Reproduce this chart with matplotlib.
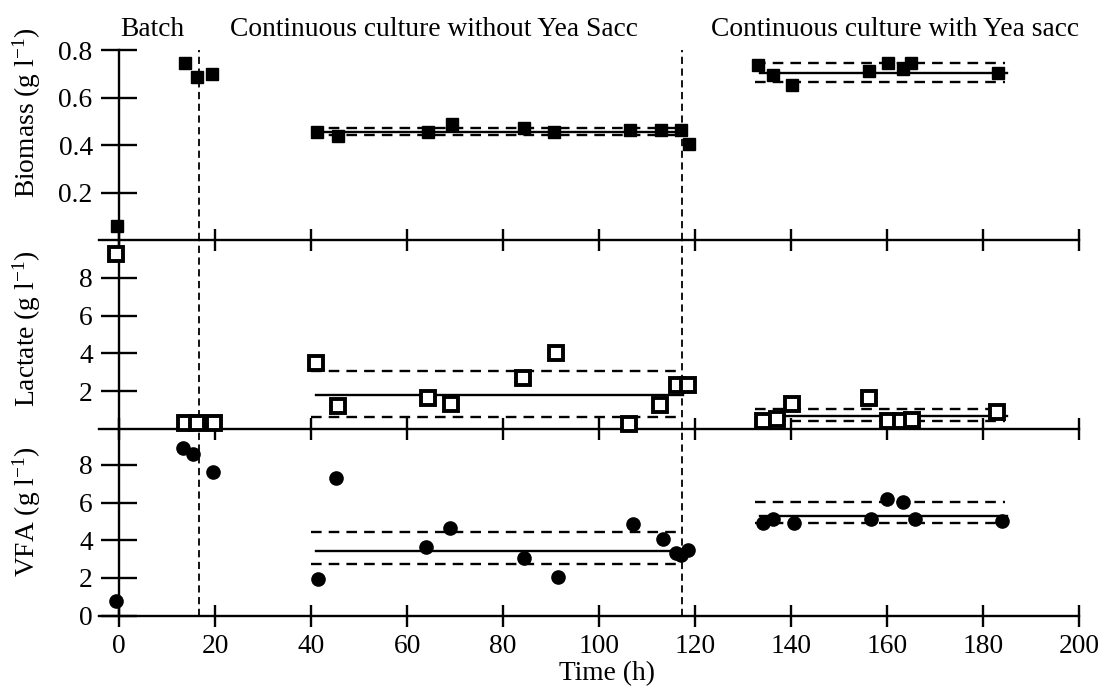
import matplotlib
matplotlib.use("Agg")
import matplotlib.pyplot as plt
from matplotlib.transforms import blended_transform_factory

plt.rcParams['font.family'] = ['Liberation Serif', 'DejaVu Serif']
plt.rcParams['mathtext.fontset'] = 'custom'
plt.rcParams['mathtext.rm'] = 'Liberation Serif'
plt.rcParams['mathtext.it'] = 'Liberation Serif:italic'
plt.rcParams['font.size'] = 19.8

bio_t = [-0.5, 13.8, 16.2, 19.3, 41.2, 45.5, 64.3, 69.4, 84.3, 90.6, 106.4,
         113.0, 117.0, 118.7, 133.1, 136.3, 140.1, 156.3, 160.2, 163.4, 165.0, 183.2]
bio_y = [0.06, 0.745, 0.685, 0.70, 0.455, 0.44, 0.455, 0.49, 0.47, 0.455, 0.465,
         0.465, 0.465, 0.405, 0.735, 0.695, 0.652, 0.712, 0.747, 0.72, 0.747, 0.705]

lac_t = [-0.6, 13.8, 16.2, 19.8, 41.0, 45.5, 64.3, 69.2, 84.2, 91.0, 106.2,
         112.8, 116.3, 118.5, 134.1, 137.0, 140.1, 156.3, 160.2, 162.9, 165.3, 183.0]
lac_y = [9.27, 0.31, 0.31, 0.31, 3.5, 1.2, 1.65, 1.35, 2.7, 4.0, 0.25,
         1.25, 2.35, 2.35, 0.4, 0.55, 1.35, 1.65, 0.4, 0.4, 0.5, 0.9]

vfa_t = [-0.6, 13.3, 15.3, 19.5, 41.4, 45.2, 64.0, 69.0, 84.3, 91.4, 107.0,
         113.3, 116.1, 117.1, 118.5, 134.1, 136.2, 140.6, 156.7, 160.1, 163.3, 165.9, 184.0]
vfa_y = [0.8, 8.9, 8.6, 7.6, 1.95, 7.3, 3.65, 4.65, 3.05, 2.05, 4.85,
         4.05, 3.3, 3.2, 3.5, 4.9, 5.15, 4.9, 5.15, 6.2, 6.05, 5.15, 5.0]

# steady-state mean and mean +/- sd for each continuous phase
phase_start = [41.0, 133.5]
phase_end = [117.5, 185.0]
bio_mean = [0.455, 0.705]
bio_hi = [0.472, 0.747]
bio_lo = [0.443, 0.666]
lac_mean = [1.8, 0.7]
lac_hi = [3.05, 1.05]
lac_lo = [0.62, 0.4]
vfa_mean = [3.45, 5.3]
vfa_hi = [4.45, 6.02]
vfa_lo = [2.75, 4.92]

phase_limits = [16.6, 117.2]
phase_names = ["Batch", "Continuous culture without Yea Sacc", "Continuous culture with Yea sacc"]
phase_label_x = [7.0, 65.6, 161.6]

fig = plt.figure(figsize=(11.01, 6.86), dpi=100)
left, width = 0.0899, 0.8901
ax_bio = fig.add_axes([left, 0.6501, width, 0.2770])
ax_lac = fig.add_axes([left, 0.3746, width, 0.2755])
ax_vfa = fig.add_axes([left, 0.1025, width, 0.2721])

panels = [
    (ax_bio, bio_t, bio_y, bio_mean, bio_hi, bio_lo, (0, 0.8), [0.2, 0.4, 0.6, 0.8],
     dict(marker='s', ms=8, mfc='black', mec='black', mew=1)),
    (ax_lac, lac_t, lac_y, lac_mean, lac_hi, lac_lo, (0, 10), [2, 4, 6, 8],
     dict(marker='s', ms=9.5, mfc='white', mec='black', mew=2.8)),
    (ax_vfa, vfa_t, vfa_y, vfa_mean, vfa_hi, vfa_lo, (0, 9.9), [0, 2, 4, 6, 8],
     dict(marker='o', ms=9.5, mfc='black', mec='black', mew=1)),
]

for ax, t, y, m, hi, lo, ylim, yticks, mstyle in panels:
    ax.set_xlim(-4.2, 200)
    ax.set_ylim(*ylim)
    ax.patch.set_visible(False)
    for s in ['top', 'right']:
        ax.spines[s].set_visible(False)
    ax.spines['left'].set_position(('data', 0))
    ax.spines['left'].set_linewidth(1.7)
    ax.spines['bottom'].set_linewidth(1.7)
    ax.set_xticks(range(0, 201, 20))
    ax.set_yticks(yticks)
    ax.set_yticklabels([f"{v:g}" for v in yticks])
    ax.tick_params(axis='y', direction='inout', length=26, width=1.7, pad=6)
    ax.tick_params(axis='x', direction='inout', length=16, width=1.7, pad=5)

    for i in range(2):
        ax.plot([phase_start[i], phase_end[i]], [m[i], m[i]], color='black', lw=1.7, zorder=2)
        for v in (hi[i], lo[i]):
            ax.plot([phase_start[i] - 1, phase_end[i] - 0.5], [v, v], color='black',
                    lw=1.7, ls=(0, (4.5, 3)), zorder=2)
    for xv in phase_limits:
        ax.axvline(xv, color='black', lw=1.3, ls=(0, (4, 2.5)), zorder=1)

    ax.plot(t, y, ls='none', color='black', zorder=4, clip_on=False, **mstyle)

ax_bio.tick_params(axis='x', labelbottom=False)
ax_lac.tick_params(axis='x', labelbottom=False)

tr = blended_transform_factory(ax_bio.transData, fig.transFigure)
for name, xc in zip(phase_names, phase_label_x):
    ax_bio.text(xc, 0.9475, name, transform=tr, ha='center', va='baseline')

fig.text(27 / 1101, 1 - 113 / 686, r"Biomass (g l$^{-1}$)", rotation=90, ha='center', va='center')
fig.text(27 / 1101, 1 - 329 / 686, r"Lactate (g l$^{-1}$)", rotation=90, ha='center', va='center')
fig.text(27 / 1101, 1 - 512 / 686, r"VFA (g l$^{-1}$)", rotation=90, ha='center', va='center')
fig.text(607 / 1101, 1 - 674 / 686, "Time (h)", ha='center', va='center')

fig.savefig("out.png", dpi=100)
